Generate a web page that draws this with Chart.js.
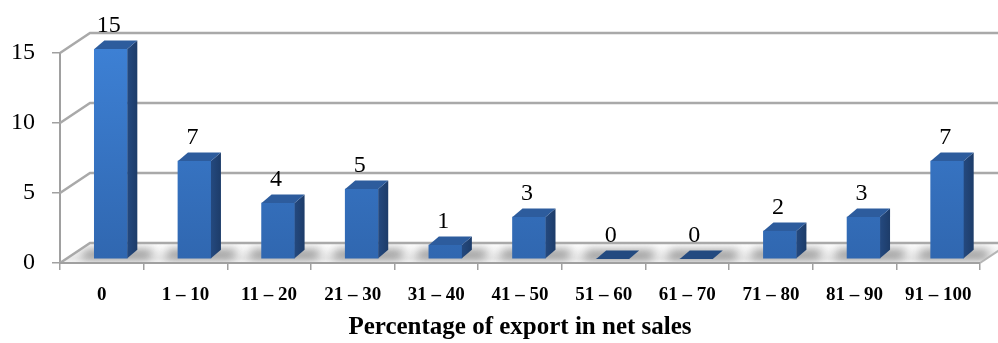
<!DOCTYPE html>
<html>
<head>
<meta charset="utf-8">
<script src="https://cdn.jsdelivr.net/npm/chart.js@4/dist/chart.umd.min.js"></script>
<style>
  html, body { margin: 0; padding: 0; background: #ffffff; }
  #wrap { width: 998px; height: 343px; }
</style>
</head>
<body>
<div id="wrap"><canvas id="chart" width="998" height="343"></canvas></div>
<script>
// Export share bands and number of companies in each band
const categories = ['0', '1 – 10', '11 – 20', '21 – 30', '31 – 40', '41 – 50',
                    '51 – 60', '61 – 70', '71 – 80', '81 – 90', '91 – 100'];
const counts = [15, 7, 4, 5, 1, 3, 0, 0, 2, 3, 7];
const yTickValues = [0, 5, 10, 15];
const axisTitle = 'Percentage of export in net sales';

// Oblique projection of the box: back wall offset, bar placement inside the box, bar depth
const WALL_DX = 30, WALL_DY = -20;
const BAR_SHIFT_X = 9, BAR_SHIFT_Y = -4;
const BAR_DX = 10, BAR_DY = -8.5;

const SERIF = '"Liberation Serif", "Times New Roman", serif';

function poly(ctx, pts) {
  ctx.beginPath();
  ctx.moveTo(pts[0][0], pts[0][1]);
  for (let i = 1; i < pts.length; i++) ctx.lineTo(pts[i][0], pts[i][1]);
  ctx.closePath();
}

// Back wall, side wall, floor and soft shadows under the columns
const boxPlugin = {
  id: 'box3d',
  beforeDatasetsDraw(chart) {
    const { ctx, chartArea: a, scales: { x, y } } = chart;
    const y0 = y.getPixelForValue(0);
    ctx.save();

    // floor
    const floor = [[a.left, y0], [a.right, y0], [a.right + WALL_DX, y0 + WALL_DY], [a.left + WALL_DX, y0 + WALL_DY]];
    const fg = ctx.createLinearGradient(0, y0 + WALL_DY, 0, y0);
    fg.addColorStop(0, '#ffffff');
    fg.addColorStop(0.35, '#f5f5f5');
    fg.addColorStop(0.75, '#e8e8e8');
    fg.addColorStop(1, '#f3f3f3');
    poly(ctx, floor);
    ctx.fillStyle = fg;
    ctx.fill();

    // shadows cast by the columns onto the floor
    ctx.save();
    poly(ctx, floor);
    ctx.clip();
    ctx.filter = 'blur(5px)';
    const meta = chart.getDatasetMeta(0);
    meta.data.forEach((bar) => {
      const w = bar.width;
      const l = bar.x - w / 2 + BAR_SHIFT_X;
      const r = bar.x + w / 2 + BAR_SHIFT_X;
      const b = bar.base + BAR_SHIFT_Y;
      ctx.fillStyle = 'rgba(60,60,60,0.48)';
      poly(ctx, [[l - 14, b + 1], [r + 22, b + 1], [r + 26, b - 9], [l - 8, b - 9]]);
      ctx.fill();
    });
    ctx.filter = 'none';
    ctx.restore();

    // back-wall gridlines and their returns on the left wall
    ctx.strokeStyle = '#a9a9a9';
    ctx.lineWidth = 2.5;
    yTickValues.forEach((v) => {
      const fy = y.getPixelForValue(v);
      ctx.beginPath();
      ctx.moveTo(a.left, fy);
      ctx.lineTo(a.left + WALL_DX, fy + WALL_DY);
      ctx.lineTo(a.right + WALL_DX, fy + WALL_DY);
      ctx.stroke();
    });

    // right edge of the floor and front edge
    ctx.strokeStyle = '#b5b5b5';
    ctx.lineWidth = 2;
    ctx.beginPath();
    ctx.moveTo(a.right, y0);
    ctx.lineTo(a.right + WALL_DX, y0 + WALL_DY);
    ctx.stroke();
    ctx.strokeStyle = '#a0a0a0';
    ctx.beginPath();
    ctx.moveTo(a.left, y0);
    ctx.lineTo(a.right, y0);
    ctx.stroke();

    ctx.restore();

    // columns are drawn pushed back into the box
    ctx.save();
    ctx.translate(BAR_SHIFT_X, BAR_SHIFT_Y);
  },
  afterDatasetsDraw(chart) {
    const { ctx } = chart;
    const meta = chart.getDatasetMeta(0);
    // side and top faces, still in the shifted frame
    meta.data.forEach((bar) => {
      const w = bar.width;
      const l = bar.x - w / 2, r = bar.x + w / 2;
      const t = bar.y, b = bar.base;
      if (b - t > 0.5) {
        const sg = ctx.createLinearGradient(r, 0, r + BAR_DX, 0);
        sg.addColorStop(0, '#24497f');
        sg.addColorStop(1, '#1d3c69');
        poly(ctx, [[r, t], [r + BAR_DX, t + BAR_DY], [r + BAR_DX, b + BAR_DY], [r, b]]);
        ctx.fillStyle = sg;
        ctx.fill();
      }
      poly(ctx, [[l, t], [l + BAR_DX, t + BAR_DY], [r + BAR_DX, t + BAR_DY], [r, t]]);
      ctx.fillStyle = (b - t > 0.5) ? '#2d5c9d' : '#234a80';
      ctx.fill();
    });
    ctx.restore();

    // value labels above each column
    ctx.save();
    ctx.font = '24px ' + SERIF;
    ctx.fillStyle = '#000000';
    ctx.textAlign = 'center';
    ctx.textBaseline = 'middle';
    meta.data.forEach((bar, i) => {
      ctx.fillText(String(counts[i]), bar.x + BAR_SHIFT_X - 2, bar.y + BAR_SHIFT_Y - 23);
    });
    ctx.restore();
  }
};

new Chart(document.getElementById('chart'), {
  type: 'bar',
  data: {
    labels: categories,
    datasets: [{
      data: counts,
      barThickness: 33,
      borderWidth: 0,
      backgroundColor: (c) => {
        const area = c.chart.chartArea;
        if (!area) return '#3674c5';
        const g = c.chart.ctx.createLinearGradient(0, area.top, 0, area.bottom);
        g.addColorStop(0, '#3d80d4');
        g.addColorStop(1, '#3067b0');
        return g;
      }
    }]
  },
  options: {
    responsive: false,
    animation: false,
    events: [],
    layout: { padding: { top: 53, right: 18, left: 0, bottom: 0 } },
    plugins: {
      legend: { display: false },
      tooltip: { enabled: false }
    },
    scales: {
      x: {
        grid: { display: true, drawOnChartArea: false, tickLength: 7, color: '#a0a0a0', lineWidth: 1.5, offset: true },
        border: { display: true, color: '#a0a0a0', width: 2 },
        ticks: {
          color: '#000000',
          font: { family: SERIF, size: 19, weight: 'bold' },
          padding: 14,
          maxRotation: 0,
          autoSkip: false
        },
        title: {
          display: true,
          text: axisTitle,
          color: '#000000',
          font: { family: SERIF, size: 25, weight: 'bold' },
          padding: { top: 0, bottom: 0 }
        },
        afterFit(scale) { scale.height = 80; }
      },
      y: {
        min: 0,
        max: 15,
        afterBuildTicks(scale) { scale.ticks = yTickValues.map((v) => ({ value: v })); },
        grid: { display: true, drawOnChartArea: false, tickLength: 8, color: '#a0a0a0', lineWidth: 1.5 },
        border: { display: true, color: '#a0a0a0', width: 2 },
        ticks: {
          color: '#000000',
          font: { family: SERIF, size: 24 },
          padding: 17
        },
        afterFit(scale) { scale.width = 60; }
      }
    }
  },
  plugins: [boxPlugin]
});
</script>
</body>
</html>
